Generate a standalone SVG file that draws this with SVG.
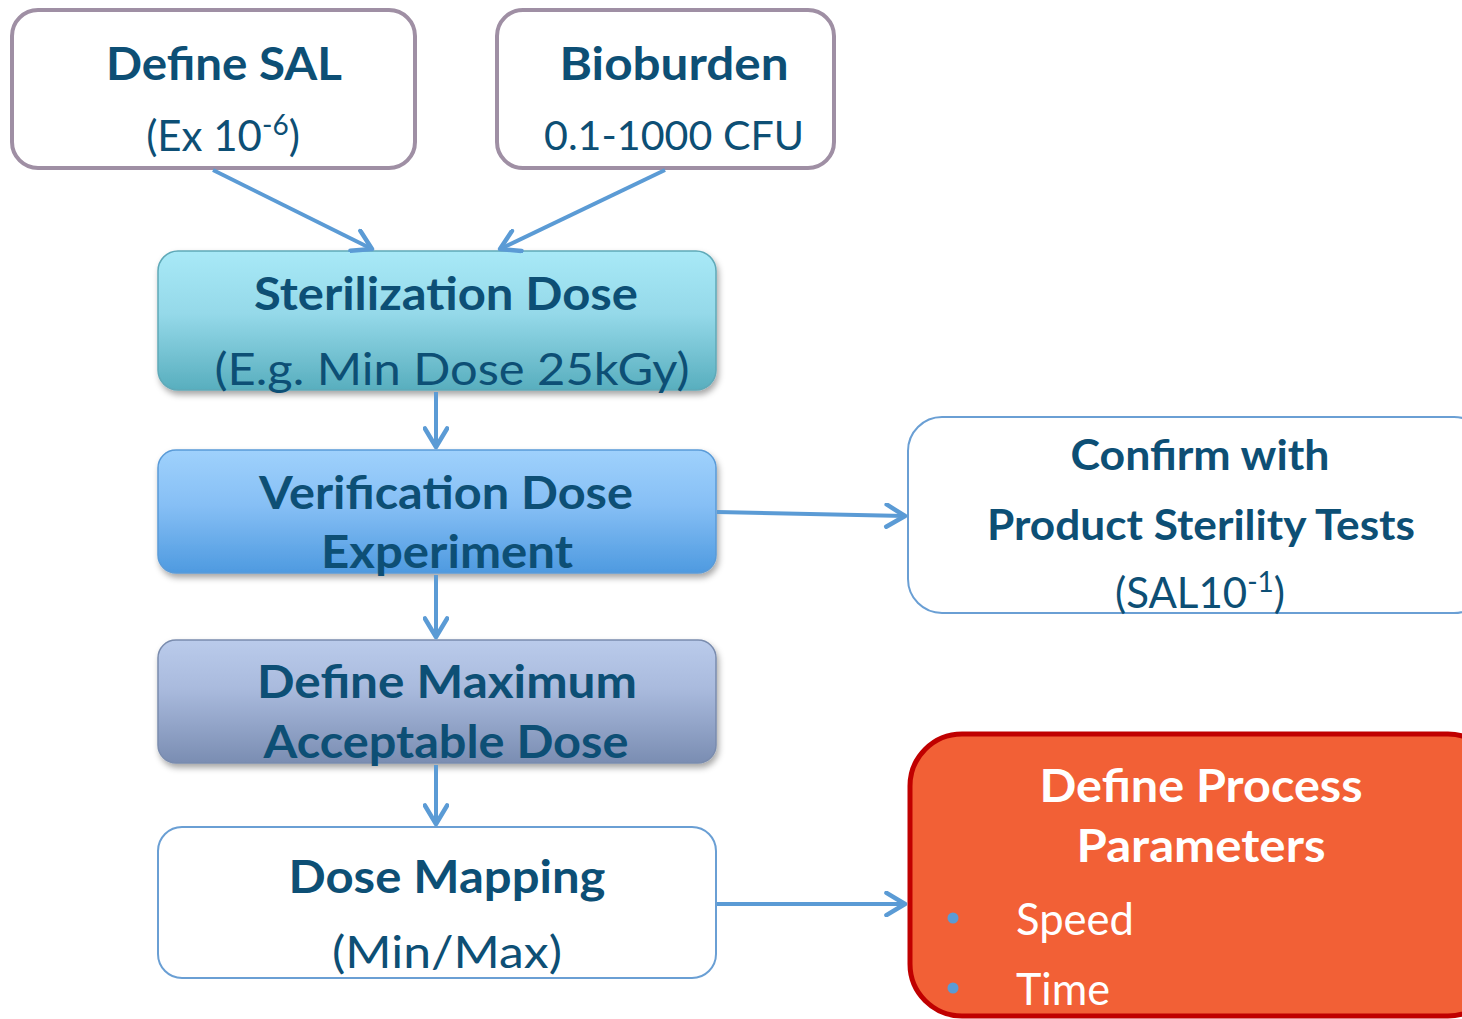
<svg xmlns="http://www.w3.org/2000/svg" width="1462" height="1019" viewBox="0 0 1462 1019">
<style>
.t{font-family:Lato,"Open Sans","Liberation Sans",sans-serif;fill:#0D4F75;text-anchor:middle}
.b{font-weight:bold;font-size:46px}
.r{font-weight:normal;font-size:44px}
.w{fill:#FFFFFF}
.conn{stroke:#5B9BD5;stroke-width:4;fill:none;marker-end:url(#ah)}
</style>
<defs>
<marker id="ah" viewBox="0 0 14 14" refX="12" refY="7" markerWidth="26" markerHeight="26" markerUnits="userSpaceOnUse" orient="auto">
<path d="M2,1 L12,7 L2,13" fill="none" stroke="#5B9BD5" stroke-width="2.4" stroke-linecap="round" stroke-linejoin="round"/>
</marker>
<linearGradient id="g1" x1="0" y1="0" x2="0" y2="1">
<stop offset="0" stop-color="#A8E9F7"/><stop offset="0.45" stop-color="#95D9E9"/><stop offset="1" stop-color="#58AEBE"/>
</linearGradient>
<linearGradient id="g2" x1="0" y1="0" x2="0" y2="1">
<stop offset="0" stop-color="#9FD1FC"/><stop offset="0.45" stop-color="#86BFF5"/><stop offset="1" stop-color="#4E9AE0"/>
</linearGradient>
<linearGradient id="g3" x1="0" y1="0" x2="0" y2="1">
<stop offset="0" stop-color="#BACBEB"/><stop offset="0.4" stop-color="#A9BADD"/><stop offset="1" stop-color="#7A8DB2"/>
</linearGradient>
<filter id="sh" x="-10%" y="-10%" width="125%" height="135%">
<feDropShadow dx="2" dy="4" stdDeviation="3" flood-color="#000" flood-opacity="0.35"/>
</filter>
</defs>

<g id="define-sal">
<rect x="12" y="10" width="403" height="158" rx="26" fill="#FFFFFF" stroke="#9F8FA4" stroke-width="4"/>
<text class="t b" x="224" y="80" textLength="236" lengthAdjust="spacingAndGlyphs">Define SAL</text>
<text class="t r" x="223" y="151" style="font-size:42px">(Ex 10<tspan font-size="28" dy="-16">-6</tspan><tspan dy="16">)</tspan></text>
</g>

<g id="bioburden">
<rect x="497" y="10" width="337" height="158" rx="26" fill="#FFFFFF" stroke="#9F8FA4" stroke-width="4"/>
<text class="t b" x="674" y="80" textLength="229" lengthAdjust="spacingAndGlyphs">Bioburden</text>
<text class="t r" x="674" y="150" style="font-size:40px" textLength="260" lengthAdjust="spacingAndGlyphs">0.1-1000 CFU</text>
</g>

<g id="sterilization-dose">
<rect x="158" y="251" width="558" height="139" rx="20" fill="url(#g1)" stroke="#5FA9B8" stroke-width="1.5" filter="url(#sh)"/>
<text class="t b" x="446" y="310" textLength="384" lengthAdjust="spacingAndGlyphs">Sterilization Dose</text>
<text class="t r" x="452" y="385" textLength="475" lengthAdjust="spacingAndGlyphs">(E.g. Min Dose 25kGy)</text>
</g>

<g id="verification-dose">
<rect x="158" y="450" width="558" height="123" rx="18" fill="url(#g2)" stroke="#5A9BD8" stroke-width="1.5" filter="url(#sh)"/>
<text class="t b" x="446" y="509" textLength="374" lengthAdjust="spacingAndGlyphs">Verification Dose</text>
<text class="t b" x="447" y="568" textLength="252" lengthAdjust="spacingAndGlyphs">Experiment</text>
</g>

<g id="max-dose">
<rect x="158" y="640" width="558" height="123" rx="18" fill="url(#g3)" stroke="#7A8CAE" stroke-width="1.5" filter="url(#sh)"/>
<text class="t b" x="447" y="698" textLength="380" lengthAdjust="spacingAndGlyphs">Define Maximum</text>
<text class="t b" x="446" y="758" textLength="365" lengthAdjust="spacingAndGlyphs">Acceptable Dose</text>
</g>

<g id="dose-mapping">
<rect x="158" y="827" width="558" height="151" rx="24" fill="#FFFFFF" stroke="#6A9FD4" stroke-width="2"/>
<text class="t b" x="447" y="893" textLength="317" lengthAdjust="spacingAndGlyphs">Dose Mapping</text>
<text class="t r" x="447" y="968" textLength="230" lengthAdjust="spacingAndGlyphs">(Min/Max)</text>
</g>

<g id="confirm">
<rect x="908" y="417" width="580" height="196" rx="34" fill="#FFFFFF" stroke="#6A9FD4" stroke-width="2"/>
<text class="t b" x="1200" y="470" style="font-size:42px" textLength="259" lengthAdjust="spacingAndGlyphs">Confirm with</text>
<text class="t b" x="1201" y="540" style="font-size:42px" textLength="428" lengthAdjust="spacingAndGlyphs">Product Sterility Tests</text>
<text class="t r" x="1200" y="608" style="font-size:42px">(SAL10<tspan font-size="28" dy="-16">-1</tspan><tspan dy="16">)</tspan></text>
</g>

<g id="process-params">
<rect x="910" y="734" width="590" height="282" rx="52" fill="#F26036" stroke="#C00000" stroke-width="5"/>
<text class="t b w" x="1201" y="802" textLength="323" lengthAdjust="spacingAndGlyphs">Define Process</text>
<text class="t b w" x="1201" y="862" textLength="249" lengthAdjust="spacingAndGlyphs">Parameters</text>
<circle cx="953" cy="918" r="5.5" fill="#5B9BD5"/>
<circle cx="953" cy="988" r="5.5" fill="#5B9BD5"/>
<text class="t r w" x="1016" y="935" style="text-anchor:start" textLength="118" lengthAdjust="spacingAndGlyphs">Speed</text>
<text class="t r w" x="1016" y="1005" style="text-anchor:start" textLength="94" lengthAdjust="spacingAndGlyphs">Time</text>
</g>

<g id="connectors">
<line class="conn" x1="213" y1="170" x2="372" y2="249"/>
<line class="conn" x1="665" y1="170" x2="500" y2="249"/>
<line class="conn" x1="436" y1="392" x2="436" y2="447"/>
<line class="conn" x1="436" y1="575" x2="436" y2="637"/>
<line class="conn" x1="436" y1="765" x2="436" y2="824"/>
<line class="conn" x1="717" y1="512" x2="905" y2="516"/>
<line class="conn" x1="717" y1="904" x2="905" y2="904"/>
</g>
</svg>
